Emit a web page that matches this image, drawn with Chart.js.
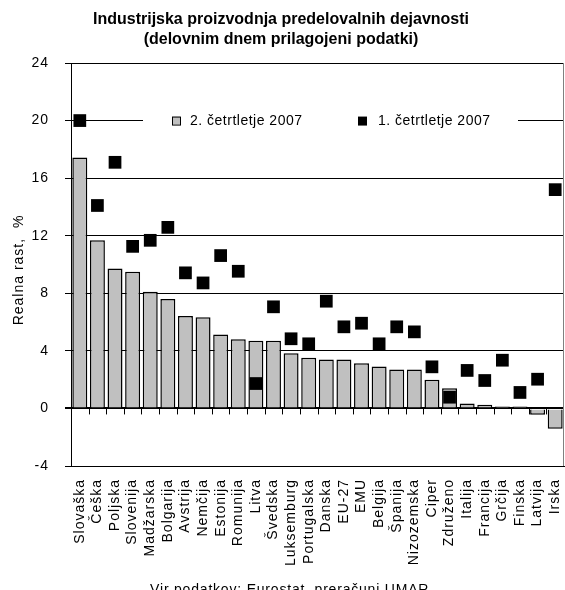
<!DOCTYPE html>
<html>
<head>
<meta charset="utf-8">
<script src="https://cdn.jsdelivr.net/npm/chart.js@4/dist/chart.umd.min.js"></script>
<style>
  html, body { margin: 0; padding: 0; background: #fff; }
  #wrap { width: 565px; height: 590px; }
</style>
</head>
<body>
<div id="wrap"><canvas id="myChart" width="565" height="590"></canvas></div>
<script>
var countries = ["Slovaška", "Češka", "Poljska", "Slovenija", "Madžarska", "Bolgarija", "Avstrija", "Nemčija",
  "Estonija", "Romunija", "Litva", "Švedska", "Luksemburg", "Portugalska", "Danska", "EU-27", "EMU",
  "Belgija", "Španija", "Nizozemska", "Ciper", "Združeno", "Italija", "Francija", "Grčija", "Finska",
  "Latvija", "Irska"];

// 2. četrtletje 2007 (bars)
var q2 = [17.44, 11.68, 9.72, 9.49, 8.10, 7.61, 6.43, 6.34, 5.14, 4.81, 4.70, 4.70, 3.84, 3.52, 3.40, 3.40,
  3.14, 2.91, 2.71, 2.71, 1.99, 1.41, 0.35, 0.26, 0.14, 0.14, -0.44, -1.41];

// 1. četrtletje 2007 (squares)
var q1 = [20.0, 14.1, 17.1, 11.26, 11.68, 12.58, 9.42, 8.72, 10.62, 9.53, 1.73, 7.06, 4.84, 4.49, 7.45, 5.67,
  5.92, 4.49, 5.67, 5.32, 2.89, 0.78, 2.64, 1.94, 3.35, 1.11, 2.03, 15.2];

var yTicks = [-4, 0, 4, 8, 12, 16, 20, 24];

var titleLines = ["Industrijska proizvodnja predelovalnih dejavnosti", "(delovnim dnem prilagojeni podatki)"];
var yTitle = "Realna rast,  %";
var source = "Vir podatkov: Eurostat, preračuni UMAR.";
var seriesNames = ["2. četrtletje 2007", "1. četrtletje 2007"];

var FONT = "'Liberation Sans', Arial, sans-serif";

// extra drawing: title, axis title, source, legend, zero-line ticks, right border
var extras = {
  id: 'extras',
  beforeDraw: function(chart) {
    chart.ctx.letterSpacing = '1px';
  },
  beforeDatasetsDraw: function(chart) {
    var ctx = chart.ctx, a = chart.chartArea;
    var ys = chart.scales.y;
    ctx.save();
    ctx.letterSpacing = '0px';
    // small ticks under zero line
    var y0 = ys.getPixelForValue(0);
    var step = (a.right - a.left) / countries.length;
    ctx.strokeStyle = '#000';
    ctx.lineWidth = 1;
    ctx.beginPath();
    for (var i = 1; i < countries.length; i++) {
      var x = Math.round(a.left + step * i) + 0.5;
      ctx.moveTo(x, y0);
      ctx.lineTo(x, y0 + 6);
    }
    ctx.stroke();
    // right border
    ctx.strokeStyle = '#808080';
    ctx.beginPath();
    ctx.moveTo(a.right - 0.5, a.top);
    ctx.lineTo(a.right - 0.5, a.bottom);
    ctx.stroke();
    // legend box
    var ly = ys.getPixelForValue(20);
    ctx.fillStyle = '#fff';
    ctx.fillRect(a.left + 72, ly - 10, 375, 20);
    ctx.font = '14px ' + FONT;
    ctx.letterSpacing = '0.5px';
    ctx.textBaseline = 'middle';
    ctx.textAlign = 'left';
    ctx.fillStyle = '#c0c0c0';
    ctx.fillRect(a.left + 101, ly - 4, 8, 8);
    ctx.strokeStyle = '#000';
    ctx.lineWidth = 1;
    ctx.strokeRect(a.left + 101.5, ly - 3.5, 8, 8);
    ctx.fillStyle = '#000';
    ctx.fillText(seriesNames[0], a.left + 119, ly + 1);
    ctx.fillRect(a.left + 287, ly - 4, 9, 9);
    ctx.fillText(seriesNames[1], a.left + 307, ly + 1);
    ctx.restore();
  },
  afterDraw: function(chart) {
    var ctx = chart.ctx;
    ctx.save();
    ctx.letterSpacing = '0px';
    ctx.fillStyle = '#000';
    ctx.textAlign = 'center';
    ctx.textBaseline = 'alphabetic';
    ctx.font = 'bold 16px ' + FONT;
    ctx.fillText(titleLines[0], 281, 24);
    ctx.fillText(titleLines[1], 281, 44);
    ctx.font = '14px ' + FONT;
    ctx.letterSpacing = '0.8px';
    ctx.fillText(source, 292, 594);
    // y axis title
    ctx.letterSpacing = '1px';
    ctx.translate(19, 270);
    ctx.rotate(-Math.PI / 2);
    ctx.textBaseline = 'middle';
    ctx.fillText(yTitle, 0, 0);
    ctx.restore();
  }
};

var ctx = document.getElementById('myChart').getContext('2d');
var chart = new Chart(ctx, {
  type: 'bar',
  data: {
    labels: countries,
    datasets: [{
      type: 'line',
      label: seriesNames[1],
      data: q1,
      showLine: false,
      pointStyle: 'rect',
      pointRadius: 9,
      pointBackgroundColor: '#000',
      pointBorderColor: '#000',
      pointBorderWidth: 0,
      order: 0
    }, {
      label: seriesNames[0],
      data: q2,
      backgroundColor: '#c0c0c0',
      borderColor: '#000',
      borderWidth: 1.5,
      barPercentage: 0.85,
      categoryPercentage: 1,
      order: 1
    }]
  },
  options: {
    responsive: false,
    animation: false,
    layout: { autoPadding: false, padding: { top: 63, bottom: 24, left: 0, right: 1 } },
    plugins: {
      legend: { display: false },
      title: { display: false },
      tooltip: { enabled: false }
    },
    scales: {
      x: {
        grid: { display: false, drawTicks: true, tickLength: 8 },
        border: { display: true, color: '#000', width: 1 },
        ticks: {
          autoSkip: false,
          maxRotation: 90,
          minRotation: 90,
          padding: 5,
          color: '#000',
          font: { family: FONT, size: 14 }
        },
        afterFit: function(s) {
          s.height = 100;
          s.paddingLeft = 0;
          s.paddingRight = 0;
        }
      },
      y: {
        min: -4,
        max: 24,
        afterBuildTicks: function(s) { s.ticks = yTicks.map(function(v) { return { value: v }; }); },
        grid: {
          color: '#000',
          tickColor: '#000',
          tickLength: 6,
          lineWidth: function(c) { return c.tick && c.tick.value === 0 ? 2 : 1; }
        },
        border: { display: true, color: '#000', width: 1 },
        ticks: {
          padding: 16,
          color: '#000',
          font: { family: FONT, size: 14 }
        },
        afterFit: function(s) { s.width = 71; }
      }
    }
  },
  plugins: [extras]
});
</script>
</body>
</html>
